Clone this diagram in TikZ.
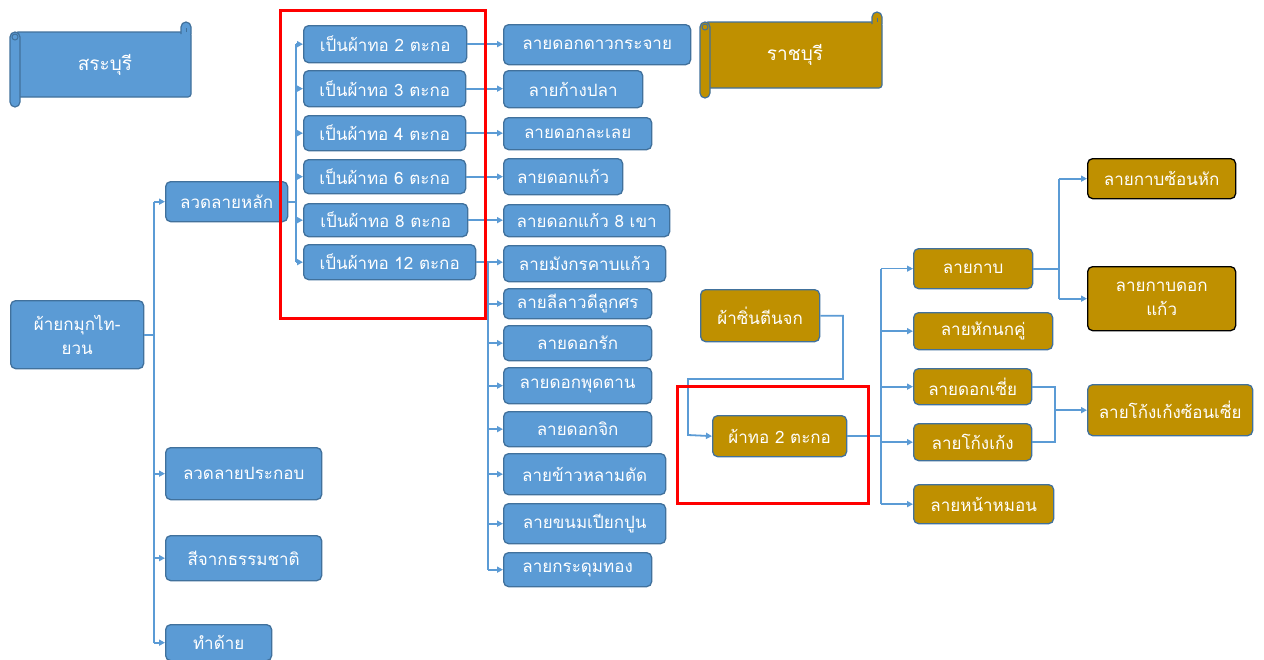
\documentclass[tikz,border=0pt]{standalone}
\usepackage{fontspec}
\newfontfamily\thai[Script=Thai]{Loma}
\usetikzlibrary{arrows.meta}
\definecolor{bfill}{HTML}{5B9BD5}
\definecolor{bline}{HTML}{41719C}
\definecolor{gfill}{HTML}{BF9000}
\definecolor{conn}{HTML}{5B9BD5}
\newcommand\drawscroll[5]{% L T R B fill
  \filldraw[fill=#5, draw=bline, line width=1.2pt, rounded corners=3pt]
    (#1+5,#2+10) -- (#3,#2+10) -- (#3,#4-10) -- (#1+5,#4-10) -- cycle;
  \filldraw[fill=#5, draw=bline, line width=1.2pt]
    (#3-10,#2+12) -- (#3-10,#2+5) arc[start angle=180,end angle=360,radius=5] -- (#3,#2+12);
  \draw[bline, line width=1pt] (#3-5,#2+10) -- (#3-5,#2+6);
  \filldraw[fill=#5, draw=bline, line width=1.2pt, rounded corners=5pt]
    (#1,#2+10) rectangle (#1+10,#4);
  \draw[bline, line width=1pt] (#1+5,#2+15) circle[radius=3];
}
\tikzset{
  wh/.style 2 args={minimum width=#1pt, minimum height=#2pt},
  box/.style={rounded corners=5pt, draw=bline, line width=1.3pt, text=white,
    inner sep=0pt, anchor=north west, align=center,
    font=\thai\fontsize{17}{24}\selectfont},
  bbox/.style={box, fill=bfill},
  gbox/.style={box, fill=gfill},
  gboxk/.style={gbox, draw=black},
  scrolltext/.style={text=white, font=\thai\fontsize{19}{22}\selectfont},
  link/.style={draw=conn, line width=2.2pt},
  thin/.style={draw=conn, line width=1.1pt},
  arr/.style={link, -{Triangle[length=6pt,width=6pt]}},
  hl/.style={draw=red, line width=3pt},
}
\begin{document}
\begin{tikzpicture}[x=1pt,y=-1pt]
\fill[white] (0,0) rectangle (1264,659);
\useasboundingbox (0,0) rectangle (1264,659);

% scrolls
\drawscroll{10}{22}{191}{107}{bfill}
\node[scrolltext] (sara) at (105,65) {สระบุรี};
\drawscroll{700}{12}{882}{98}{gfill}
\node[scrolltext] (ratch) at (795,55) {ราชบุรี};

% left column
\node[bbox, wh={133}{68}] (root) at (10,300) {ผ้ายกมุกไท-\\ยวน};
\node[bbox, wh={122}{40}] (main) at (165,181) {ลวดลายหลัก};
\node[bbox, wh={156}{52}] (comp) at (165,447) {ลวดลายประกอบ};
\node[bbox, wh={156}{45}] (dye) at (165,535) {สีจากธรรมชาติ};
\node[bbox, wh={106}{36}] (yarn) at (165,624) {ทำด้าย};

% harness column
\node[bbox, wh={163}{37}] (p2) at (303,25) {เป็นผ้าทอ 2 ตะกอ};
\node[bbox, wh={162}{36}] (p3) at (303,70) {เป็นผ้าทอ 3 ตะกอ};
\node[bbox, wh={162}{35}] (p4) at (303,115) {เป็นผ้าทอ 4 ตะกอ};
\node[bbox, wh={162}{34}] (p6) at (303,159) {เป็นผ้าทอ 6 ตะกอ};
\node[bbox, wh={164}{33}] (p8) at (303,203) {เป็นผ้าทอ 8 ตะกอ};
\node[bbox, wh={172}{35}] (p12) at (303,244) {เป็นผ้าทอ 12 ตะกอ};

% pattern column
\node[bbox, wh={187}{40}] (r1) at (503,24) {ลายดอกดาวกระจาย};
\node[bbox, wh={139}{37}] (r2) at (503,70) {ลายก้างปลา};
\node[bbox, wh={148}{32}] (r3) at (503,117) {ลายดอกละเลย};
\node[bbox, wh={119}{36}] (r4) at (503,158) {ลายดอกแก้ว};
\node[bbox, wh={166}{32}] (r5) at (503,204) {ลายดอกแก้ว 8 เขา};
\node[bbox, wh={162}{36}] (r6) at (503,245) {ลายมังกรคาบแก้ว};
\node[bbox, wh={148}{30}] (r7) at (503,288) {ลายลีลาวดีลูกศร};
\node[bbox, wh={148}{35}] (r8) at (503,325) {ลายดอกรัก};
\node[bbox, wh={148}{36}] (r9) at (503,367) {ลายดอกพุดตาน};
\node[bbox, wh={148}{35}] (r10) at (503,411) {ลายดอกจิก};
\node[bbox, wh={162}{41}] (r11) at (503,453) {ลายข้าวหลามตัด};
\node[bbox, wh={162}{40}] (r12) at (503,503) {ลายขนมเปียกปูน};
\node[bbox, wh={148}{34}] (r13) at (503,552) {ลายกระดุมทอง};

% gold part
\node[gbox, wh={119}{52}] (sin) at (700,289) {ผ้าซิ่นตีนจก};
\node[gbox, wh={134}{41}] (g2) at (712,415) {ผ้าทอ 2 ตะกอ};
\node[gbox, wh={119}{40}] (k1) at (913,248) {ลายกาบ};
\node[gbox, wh={139}{37}] (k2) at (913,312) {ลายหักนกคู่};
\node[gbox, wh={118}{36}] (k3) at (913,368) {ลายดอกเซี่ย};
\node[gbox, wh={118}{37}] (k4) at (913,423) {ลายโก้งเก้ง};
\node[gbox, wh={140}{39}] (k5) at (913,484) {ลายหน้าหมอน};
\node[gboxk, wh={148}{40}] (s1) at (1087,158) {ลายกาบซ้อนหัก};
\node[gboxk, wh={148}{64}] (s2) at (1087,266) {ลายกาบดอก\\แก้ว};
\node[gbox, wh={165}{51}] (s3) at (1087,384) {ลายโก้งเก้งซ้อนเซี่ย};

% trunk coordinates
\coordinate (tx1) at (154,0);
\coordinate (tx2) at (296,0);
\coordinate (tx3) at (488,0);
\coordinate (tx4) at (881,0);
\coordinate (tx5) at (1059,0);
\coordinate (tx6) at (1055,0);
\coordinate (sa) at (843,379);
\coordinate (sb) at (688,435);

% root connections
\draw[link] (root.east) -- (root.east -| tx1);
\draw[link] (tx1 |- main.west) -- (tx1 |- yarn.west);
\foreach \n in {main,comp,dye,yarn} \draw[arr] (tx1 |- \n.west) -- (\n.west);

% main -> harness
\draw[link] (main.east) -- (main.east -| tx2);
\draw[link] (tx2 |- p2.west) -- (tx2 |- p12.west);
\foreach \n in {p2,p3,p4,p6,p8,p12} \draw[arr] (tx2 |- \n.west) -- (\n.west);

% harness -> patterns
\draw[arr] (p2.east) -- (p2.east -| r1.west);
\draw[arr] (p3.east) -- (p3.east -| r2.west);
\draw[arr] (p4.east) -- (p4.east -| r3.west);
\draw[arr] (p6.east) -- (p6.east -| r4.west);
\draw[arr] (p8.east) -- (p8.east -| r5.west);
\draw[link] (p12.east) -- (p12.east -| tx3);
\draw[link] (tx3 |- p12.east) -- (tx3 |- r13.west);
\draw[arr] (tx3 |- p12.east) -- (p12.east -| r6.west);
\foreach \n in {r7,r8,r9,r10,r11,r12,r13} \draw[arr] (tx3 |- \n.west) -- (\n.west);

% gold connections
\draw[arr, line width=1.8pt] (sin.east) -| (sa) -| (sb) -- (g2.west);
\draw[link] (g2.east) -- (g2.east -| tx4);
\draw[thin] (tx4 |- k1.west) -- (tx4 |- k2.west);
\draw[link] (tx4 |- k2.west) -- (tx4 |- k5.west);
\draw[thin, -{Triangle[length=6pt,width=6pt]}] (tx4 |- k1.west) -- (k1.west);
\foreach \n in {k2,k3,k4,k5} \draw[arr] (tx4 |- \n.west) -- (\n.west);

\draw[link] (k1.east) -- (k1.east -| tx5);
\draw[link] (tx5 |- s1.west) -- (tx5 |- s2.west);
\draw[arr] (tx5 |- s1.west) -- (s1.west);
\draw[arr] (tx5 |- s2.west) -- (s2.west);

\draw[link] (k3.east) -- (k3.east -| tx6) -- (k4.east -| tx6) -- (k4.east);
\draw[arr] (tx6 |- s3.west) -- (s3.west);

% highlight frames
\draw[hl] (280,10) rectangle (485,318);
\draw[hl] (677,386) rectangle (868,503);
\end{tikzpicture}
\end{document}
